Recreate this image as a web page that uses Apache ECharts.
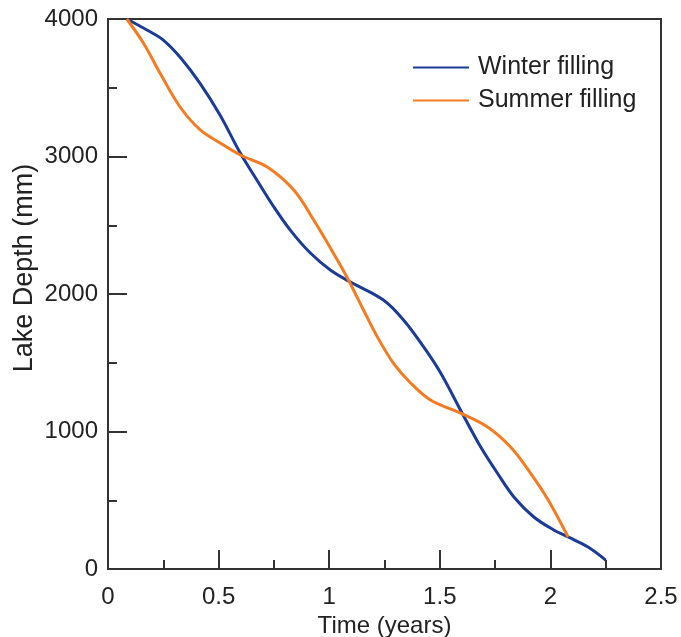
<!DOCTYPE html>
<html>
<head>
<meta charset="utf-8">
<script src="https://cdn.jsdelivr.net/npm/echarts@6/dist/echarts.min.js"></script>
<style>
  html, body { margin: 0; padding: 0; background: #fff; }
  #main { width: 681px; height: 637px; }
</style>
</head>
<body>
<div id="main"></div>
<script>
// winter filling curve
var winterTime = [0.085, 0.176, 0.25, 0.33, 0.417, 0.507, 0.598, 0.673, 0.75, 0.824, 0.915, 1.005, 1.096, 1.245, 1.336, 1.427, 1.504, 1.603, 1.685, 1.76, 1.835, 1.925, 2.015, 2.08, 2.17, 2.25];
var winterDepth = [4000, 3920, 3847, 3715, 3530, 3300, 3025, 2829, 2633, 2465, 2298, 2175, 2087, 1956, 1811, 1615, 1425, 1127, 887, 698, 524, 378, 284, 233, 160, 65];

// summer filling curve
var summerTime = [0.085, 0.16, 0.235, 0.326, 0.417, 0.507, 0.598, 0.72, 0.84, 0.93, 1.037, 1.087, 1.155, 1.218, 1.29, 1.368, 1.458, 1.603, 1.716, 1.82, 1.91, 1.99, 2.08];
var summerDepth = [4000, 3825, 3607, 3360, 3193, 3098, 3011, 2924, 2756, 2538, 2247, 2102, 1884, 1687, 1498, 1353, 1229, 1127, 1033, 887, 698, 502, 233];

var seriesNames = ['Winter filling', 'Summer filling'];

function pairs(xs, ys) {
  var out = [];
  for (var i = 0; i < xs.length; i++) {
    out.push([xs[i], ys[i]]);
  }
  return out;
}

var chart = echarts.init(document.getElementById('main'), null, { renderer: 'canvas' });

var font = 'Liberation Sans, Arial, sans-serif';
var axisColor = '#333333';
var textColor = '#222222';

var option = {
  backgroundColor: '#ffffff',
  animation: false,
  textStyle: { fontFamily: font },
  grid: {
    left: 108,
    top: 19,
    right: 20,
    bottom: 68,
    outerBoundsMode: 'none',
    containLabel: false,
    show: true,
    borderColor: axisColor,
    borderWidth: 2,
    backgroundColor: 'transparent'
  },
  legend: {
    orient: 'vertical',
    left: 412,
    top: 55,
    padding: 0,
    itemWidth: 56,
    itemHeight: 24,
    itemGap: 8,
    data: seriesNames,
    itemStyle: { opacity: 0 },
    textStyle: { fontFamily: font, fontSize: 25, lineHeight: 24, color: textColor, padding: [0, 0, 0, 4] }
  },
  xAxis: {
    type: 'value',
    min: 0,
    max: 2.5,
    interval: 0.5,
    name: 'Time (years)',
    nameLocation: 'middle',
    nameGap: 39,
    nameTextStyle: { fontFamily: font, fontSize: 24, color: textColor },
    axisLine: { lineStyle: { color: axisColor, width: 2 } },
    axisTick: { inside: true, length: 19, lineStyle: { color: axisColor, width: 2 } },
    minorTick: { show: true, splitNumber: 2, length: 9, lineStyle: { color: axisColor, width: 2 } },
    axisLabel: { margin: 16, fontFamily: font, fontSize: 24, color: textColor },
    splitLine: { show: false }
  },
  yAxis: {
    type: 'value',
    min: 0,
    max: 4000,
    interval: 1000,
    name: 'Lake Depth (mm)',
    nameLocation: 'middle',
    nameGap: 70,
    nameMoveOverlap: false,
    nameTextStyle: { fontFamily: font, fontSize: 27, color: textColor, padding: [0, 0, 0, 52] },
    axisLine: { lineStyle: { color: axisColor, width: 2 } },
    axisTick: { inside: true, length: 19, lineStyle: { color: axisColor, width: 2 } },
    minorTick: { show: true, splitNumber: 2, length: 9, lineStyle: { color: axisColor, width: 2 } },
    axisLabel: {
      margin: 10, fontFamily: font, fontSize: 24, color: textColor,
      formatter: function (v) { return String(v); }
    },
    splitLine: { show: false }
  },
  series: [{
    name: seriesNames[0],
    type: 'line',
    smooth: 0.35,
    symbol: 'none',
    color: '#1b3c96',
    lineStyle: { width: 3, color: '#1b3c96' },
    data: pairs(winterTime, winterDepth)
  }, {
    name: seriesNames[1],
    type: 'line',
    smooth: 0.35,
    symbol: 'none',
    color: '#f47b20',
    lineStyle: { width: 3, color: '#f47b20' },
    data: pairs(summerTime, summerDepth)
  }]
};

chart.setOption(option);
</script>
</body>
</html>
